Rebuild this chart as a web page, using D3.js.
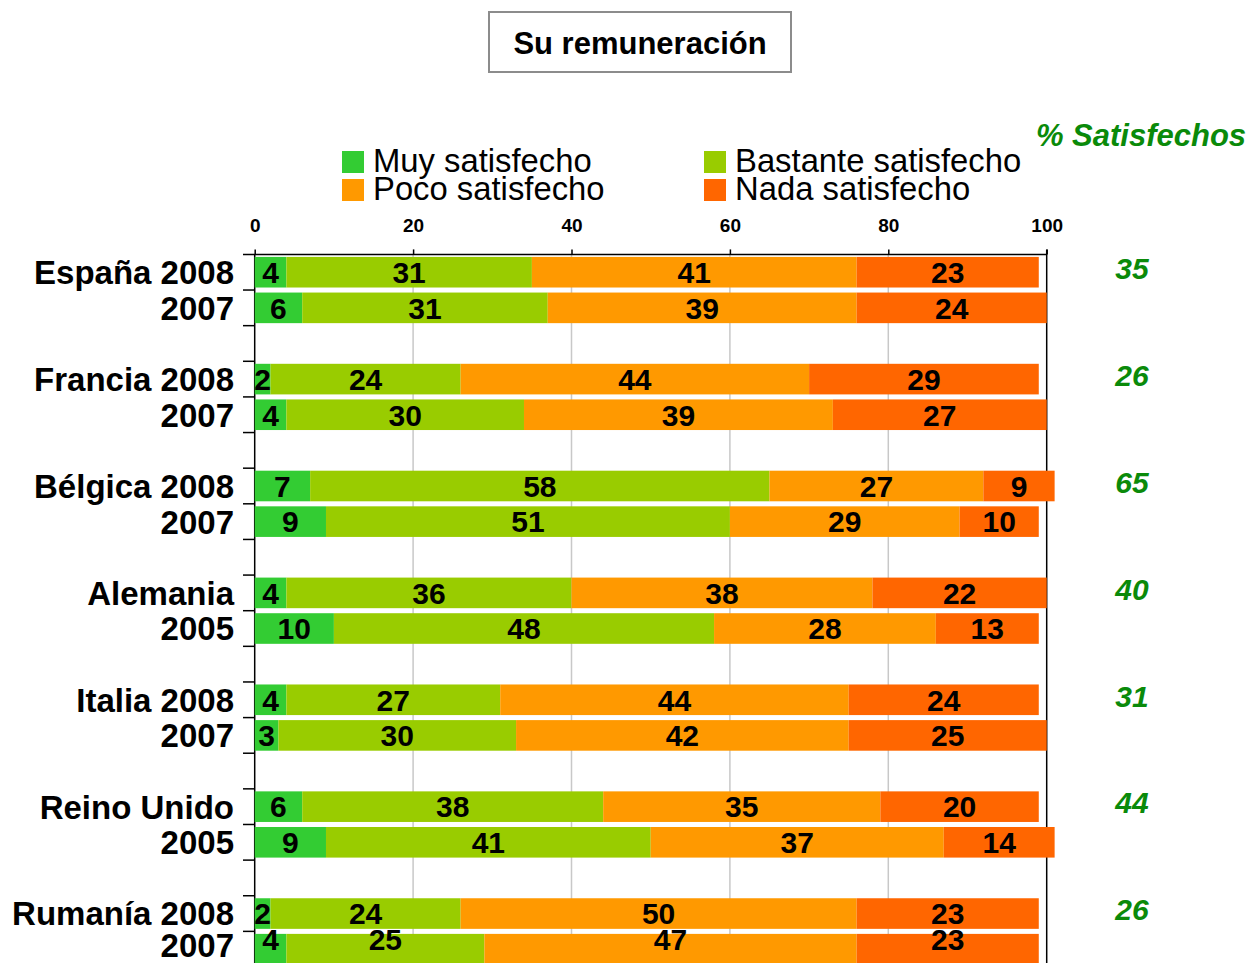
<!DOCTYPE html>
<html>
<head>
<meta charset="utf-8">
<script src="https://cdn.jsdelivr.net/npm/d3@7"></script>
<style>
  html, body { margin: 0; padding: 0; background: #fff; overflow: hidden; }
  svg { display: block; font-family: "Liberation Sans", Arial, Helvetica, sans-serif; }
</style>
</head>
<body>
<svg id="chart" width="1254" height="963"></svg>
<script>
// ---- data ----
const title = "Su remuneración";
const rowLabels = ["España 2008", "2007", "Francia 2008", "2007", "Bélgica 2008", "2007",
                   "Alemania", "2005", "Italia 2008", "2007", "Reino Unido", "2005",
                   "Rumanía 2008", "2007"];
const seriesNames = ["Muy satisfecho", "Bastante satisfecho", "Poco satisfecho", "Nada satisfecho"];
const muySatisfecho     = [4, 6, 2, 4, 7, 9, 4, 10, 4, 3, 6, 9, 2, 4];
const bastanteSatisfecho = [31, 31, 24, 30, 58, 51, 36, 48, 27, 30, 38, 41, 24, 25];
const pocoSatisfecho    = [41, 39, 44, 39, 27, 29, 38, 28, 44, 42, 35, 37, 50, 47];
const nadaSatisfecho    = [23, 24, 29, 27, 9, 10, 22, 13, 24, 25, 20, 14, 23, 23];
const satisfechos = [35, 26, 65, 40, 31, 44, 26];
const xTicks = [0, 20, 40, 60, 80, 100];
const colors = ["#33cc33", "#99cc00", "#ff9900", "#ff6600"];

// ---- layout ----
const W = 1254, H = 963;
const svg = d3.select("#chart");
const font = "'Liberation Sans', Arial, Helvetica, sans-serif";

const x = d3.scaleLinear().domain([0, 100]).range([254.7, 1046.7]);
const nRows = 21; // 7 groups x (2 bars + spacer)
const rowStep = 35.63;
const y0 = 254.4;
const yRow = d3.scaleBand().domain(d3.range(nRows)).range([y0, y0 + nRows * rowStep]).padding(0);
const barH = 30.6;
const barRow = i => Math.floor(i / 2) * 3 + (i % 2);

// title box
svg.append("rect").attr("x", 489).attr("y", 12).attr("width", 302).attr("height", 60)
  .attr("fill", "#fff").attr("stroke", "#8c8c8c").attr("stroke-width", 2);
svg.append("text").attr("x", 640).attr("y", 54).attr("text-anchor", "middle")
  .attr("font-size", 31).attr("font-weight", "bold").attr("fill", "#000").text(title);

// legend
const legendPos = [[342, 151], [704, 151], [342, 179], [704, 179]];
seriesNames.forEach((name, i) => {
  const [lx, ly] = legendPos[i];
  svg.append("rect").attr("x", lx).attr("y", ly).attr("width", 22).attr("height", 22).attr("fill", colors[i]);
  svg.append("text").attr("x", lx + 31).attr("y", ly + 21).attr("font-size", 32.8)
    .attr("fill", "#000").text(name);
});

// % Satisfechos header
svg.append("text").attr("x", 1141).attr("y", 146).attr("text-anchor", "middle")
  .attr("font-size", 31).attr("font-weight", "bold").attr("font-style", "italic")
  .attr("fill", "#0a8a0a").text("% Satisfechos");

// gridlines
const plotBottom = y0 + nRows * rowStep;
svg.append("g").selectAll("line").data(xTicks.filter(d => d > 0 && d < 100)).join("line")
  .attr("x1", d => x(d)).attr("x2", d => x(d)).attr("y1", y0).attr("y2", plotBottom)
  .attr("stroke", "#c8c8c8").attr("stroke-width", 1.5);

// top axis
const xAxis = d3.axisTop(x).tickValues(xTicks).tickSize(5).tickSizeOuter(0).tickFormat(d3.format("d"));
const gx = svg.append("g").attr("transform", `translate(0,${y0})`).call(xAxis);
gx.select(".domain").remove();
gx.selectAll(".tick line").attr("stroke", "#000").attr("stroke-width", 1.5);
gx.selectAll(".tick text").attr("font-family", font).attr("font-size", 19).attr("font-weight", "bold")
  .attr("fill", "#000").attr("dy", "-14");
svg.append("line").attr("x1", 243).attr("x2", x(100)).attr("y1", y0).attr("y2", y0)
  .attr("stroke", "#000").attr("stroke-width", 1.5);

// left axis line + row ticks
svg.append("line").attr("x1", x(0)).attr("x2", x(0)).attr("y1", y0).attr("y2", plotBottom)
  .attr("stroke", "#000").attr("stroke-width", 1.5);
svg.append("line").attr("x1", x(100)).attr("x2", x(100)).attr("y1", y0 - 5).attr("y2", plotBottom)
  .attr("stroke", "#000").attr("stroke-width", 1.5);
svg.append("g").selectAll("line").data(d3.range(1, nRows + 1)).join("line")
  .attr("x1", 243).attr("x2", x(0)).attr("y1", d => y0 + d * rowStep).attr("y2", d => y0 + d * rowStep)
  .attr("stroke", "#000").attr("stroke-width", 1.5);

// stacked bars
const series = [muySatisfecho, bastanteSatisfecho, pocoSatisfecho, nadaSatisfecho];
const barsG = svg.append("g");
const labelsG = svg.append("g");
rowLabels.forEach((lab, i) => {
  const r = barRow(i);
  const cy = yRow(r) + yRow.bandwidth() / 2;
  let acc = 0;
  series.forEach((s, k) => {
    const v = s[i];
    barsG.append("rect").attr("x", x(acc)).attr("y", cy - barH / 2)
      .attr("width", x(acc + v) - x(acc)).attr("height", barH).attr("fill", colors[k]);
    const ty = Math.min(cy, H - 24);
    labelsG.append("text").attr("x", (x(acc) + x(acc + v)) / 2).attr("y", ty)
      .attr("dy", "0.36em").attr("text-anchor", "middle").attr("font-size", 30)
      .attr("font-weight", "bold").attr("fill", "#000").text(v);
    acc += v;
  });
  // row label
  svg.append("text").attr("x", 234).attr("y", Math.min(cy, H - 18)).attr("dy", "0.36em")
    .attr("text-anchor", "end").attr("font-size", 33).attr("font-weight", "bold")
    .attr("fill", "#000").text(lab);
});

// % satisfechos values
satisfechos.forEach((v, g) => {
  const cy = yRow(g * 3) + yRow.bandwidth() / 2 - 4;
  svg.append("text").attr("x", 1132).attr("y", cy).attr("dy", "0.36em").attr("text-anchor", "middle")
    .attr("font-size", 30).attr("font-weight", "bold").attr("font-style", "italic")
    .attr("fill", "#0a8a0a").text(v);
});
</script>
</body>
</html>
